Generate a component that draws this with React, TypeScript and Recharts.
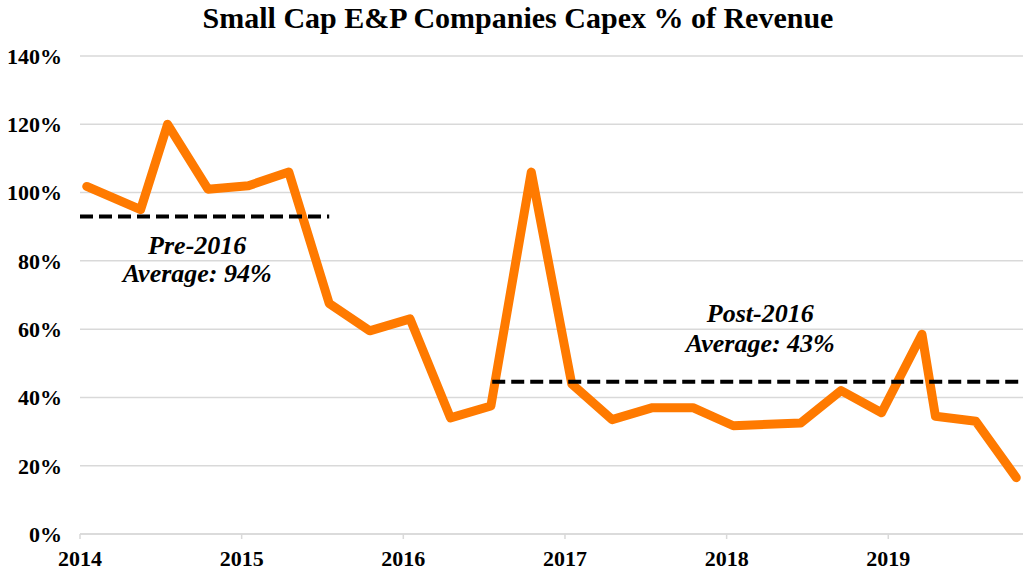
import React from "react";
import {
  LineChart,
  Line,
  XAxis,
  YAxis,
  CartesianGrid,
  ReferenceLine,
  ReferenceDot,
} from "recharts";

// Months since Jan 2014
const months = [
  0.5, 4.5, 6.5, 9.5, 12.5, 15.5, 18.5, 21.5, 24.5, 27.5, 30.5, 33.5, 36.5,
  39.5, 42.5, 45.5, 48.5, 53.5, 56.5, 59.5, 62.5, 63.5, 66.5, 69.5,
];
const capexPct = [
  101.8, 95, 120, 101, 102, 106, 67.5, 59.5, 63, 34, 37.5, 106, 44, 33.5, 37,
  37, 31.7, 32.5, 42, 35.5, 58.5, 34.5, 33, 16.5,
];
const yearTicks = [0, 12, 24, 36, 48, 60];
const yTicks = [0, 20, 40, 60, 80, 100, 120, 140];
const preAvg = { from: 0, to: 18.5, value: 93 };
const postAvg = { from: 30.6, to: 70, value: 44.6 };
const preLabels = ["Pre-2016", "Average: 94%"];
const postLabels = ["Post-2016", "Average: 43%"];

const data = months.map((m, i) => ({ m, v: capexPct[i] }));

const FONT = "'Liberation Serif', 'DejaVu Serif', serif";

const makeLabel = (text: string) => (props: any) => {
  const vb = props.viewBox || {};
  const cx = (vb.x ?? 0) + (vb.width ?? 0) / 2;
  const cy = (vb.y ?? 0) + (vb.height ?? 0) / 2;
  return (
    <text
      x={cx}
      y={cy}
      textAnchor="middle"
      dominantBaseline="central"
      fontFamily={FONT}
      fontSize={26}
      fontWeight="bold"
      fontStyle="italic"
      fill="#000"
    >
      {text}
    </text>
  );
};

export default function App() {
  return (
    <div
      style={{
        position: "absolute",
        left: 0,
        top: 0,
        width: 1025,
        height: 571,
        background: "#fff",
      }}
    >
      <div
        style={{
          position: "absolute",
          left: 0,
          top: 1,
          width: 1036,
          textAlign: "center",
          fontFamily: FONT,
          fontWeight: "bold",
          fontSize: 30,
          color: "#000",
        }}
      >
        Small Cap E&amp;P Companies Capex % of Revenue
      </div>
      <LineChart
        width={1025}
        height={571}
        data={data}
        margin={{ top: 56, right: 2, left: 0, bottom: 0 }}
      >
        <CartesianGrid
          vertical={false}
          stroke="#d9d9d9"
          strokeWidth={1.5}
        />
        <XAxis
          dataKey="m"
          type="number"
          domain={[0, 70]}
          ticks={yearTicks}
          tickFormatter={(m: number) => String(2014 + m / 12)}
          height={37}
          axisLine={{ stroke: "#d9d9d9", strokeWidth: 1.5 }}
          tickLine={{ stroke: "#d9d9d9", strokeWidth: 1.5 }}
          tickSize={5}
          tickMargin={11}
          tick={{
            fill: "#000",
            fontFamily: FONT,
            fontWeight: "bold",
            fontSize: 22,
          }}
          interval={0}
          allowDataOverflow
        />
        <YAxis
          type="number"
          domain={[0, 140]}
          ticks={yTicks}
          tickFormatter={(v: number) => `${v}%`}
          width={80}
          axisLine={false}
          tickLine={false}
          tickSize={0}
          tickMargin={18}
          tick={{
            fill: "#000",
            fontFamily: FONT,
            fontWeight: "bold",
            fontSize: 22,
          }}
          interval={0}
        />
        <Line
          dataKey="v"
          type="linear"
          stroke="#FF7A00"
          strokeWidth={9}
          strokeLinejoin="round"
          strokeLinecap="round"
          dot={false}
          activeDot={false}
          isAnimationActive={false}
        />
        <ReferenceLine
          segment={[
            { x: preAvg.from, y: preAvg.value },
            { x: preAvg.to, y: preAvg.value },
          ]}
          stroke="#000"
          strokeWidth={4}
          strokeDasharray="13 6"
        />
        <ReferenceLine
          segment={[
            { x: postAvg.from, y: postAvg.value },
            { x: postAvg.to, y: postAvg.value },
          ]}
          stroke="#000"
          strokeWidth={4}
          strokeDasharray="13 6"
        />
        <ReferenceDot
          x={8.7}
          y={84.5}
          r={1}
          fill="none"
          stroke="none"
          label={makeLabel(preLabels[0])}
        />
        <ReferenceDot
          x={8.7}
          y={76.3}
          r={1}
          fill="none"
          stroke="none"
          label={makeLabel(preLabels[1])}
        />
        <ReferenceDot
          x={50.5}
          y={64.6}
          r={1}
          fill="none"
          stroke="none"
          label={makeLabel(postLabels[0])}
        />
        <ReferenceDot
          x={50.5}
          y={55.8}
          r={1}
          fill="none"
          stroke="none"
          label={makeLabel(postLabels[1])}
        />
      </LineChart>
    </div>
  );
}
